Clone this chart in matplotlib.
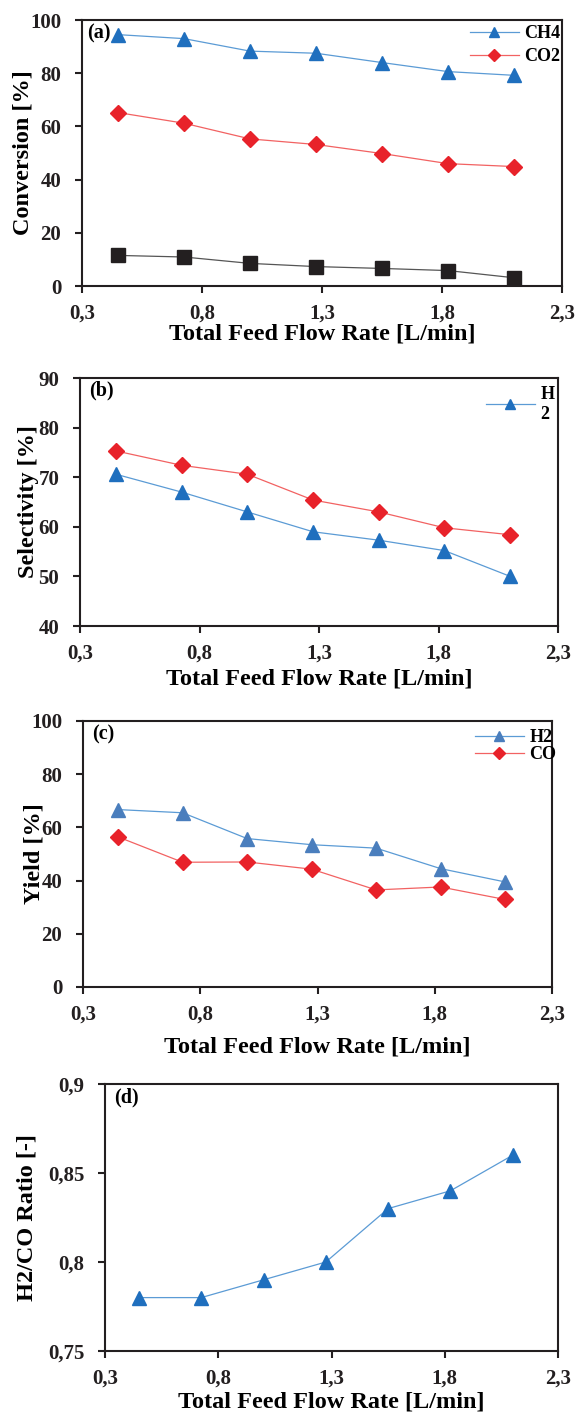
"""Feed flow rate effect on conversion, selectivity, yield and H2/CO ratio."""
import matplotlib
matplotlib.use("Agg")
import matplotlib.pyplot as plt

# ---- data ----
flow = [0.45, 0.725, 1.0, 1.275, 1.55, 1.825, 2.1]

conv_ch4 = [94.5, 93.0, 88.3, 87.5, 84.0, 80.6, 79.2]
conv_co2 = [65.2, 61.2, 55.3, 53.2, 49.8, 46.0, 44.9]
conv_black = [11.5, 10.9, 8.5, 7.3, 6.6, 5.8, 3.1]

sel_h2 = [70.6, 67.0, 63.0, 59.0, 57.3, 55.2, 50.0]
sel_red = [75.3, 72.4, 70.6, 65.4, 63.0, 59.8, 58.4]

yield_h2 = [66.7, 65.5, 55.8, 53.5, 52.2, 44.5, 39.5]
yield_co = [56.4, 46.9, 47.0, 44.3, 36.5, 37.6, 32.9]

ratio_h2co = [0.78, 0.78, 0.79, 0.80, 0.83, 0.84, 0.86]

xticks = [0.3, 0.8, 1.3, 1.8, 2.3]
xticklabels = ["0,3", "0,8", "1,3", "1,8", "2,3"]

W, H = 575, 1416
BLUE = "#1f6fbe"
BLUE_LINE = "#5b9bd5"
BLUE_C = "#4a7ebd"
RED = "#e8222a"
RED_LINE = "#f26262"
INK = "#231f20"

plt.rcParams["font.family"] = ["Liberation Serif", "DejaVu Serif"]
plt.rcParams["font.weight"] = "bold"
plt.rcParams["axes.labelweight"] = "bold"

fig = plt.figure(figsize=(W / 100, H / 100), dpi=100)


def add_ax(left, right, top, bottom):
    ax = fig.add_axes([left / W, 1 - bottom / H, (right - left) / W, (bottom - top) / H])
    ax._px = (left, right, top, bottom)
    return ax


def style(ax, ylabel, panel, yticks, yticklabels, ylim, xlab_y, ylab_x):
    left, right, top, bottom = ax._px
    ax.set_xlim(0.3, 2.3)
    ax.set_ylim(*ylim)
    ax.set_xticks(xticks)
    ax.set_xticklabels(xticklabels)
    ax.set_yticks(yticks)
    ax.set_yticklabels(yticklabels)
    for s in ax.spines.values():
        s.set_linewidth(1.5)
        s.set_color(INK)
    ax.tick_params(direction="out", length=5, width=1.5, labelsize=15,
                   colors=INK)
    ax.tick_params(axis="x", pad=8)
    ax.tick_params(axis="y", pad=10)
    ax.set_xlabel("Total Feed Flow Rate [L/min]", fontsize=17.5, va="center")
    ax.set_ylabel(ylabel, fontsize=17.5, va="center")
    ax.xaxis.set_label_coords(0.5, (bottom - xlab_y) / (bottom - top))
    ax.yaxis.set_label_coords((ylab_x - left) / (right - left), 0.5)
    ax.text((87 - left) / (right - left) if panel == "(a)" else 0.02, 0.95, panel,
            transform=ax.transAxes, fontsize=14.5, fontweight="bold",
            va="center", ha="left")


def legend(ax, x, y, spacing=0.35):
    ax.legend(loc="upper left", bbox_to_anchor=(x / W, 1 - y / H),
              bbox_transform=fig.transFigure, frameon=False, fontsize=13,
              handlelength=2.7, handletextpad=0.3, labelspacing=spacing,
              borderpad=0, borderaxespad=0, markerscale=0.75)


# (a) conversion
ax = add_ax(82, 562, 20, 286)
ax.plot(flow, conv_ch4, color=BLUE_LINE, lw=0.9, marker="^", ms=10.5,
        mfc=BLUE, mec=BLUE, label="CH4")
ax.plot(flow, conv_co2, color=RED_LINE, lw=0.9, marker="D", ms=8,
        mfc=RED, mec=RED, label="CO2")
ax.plot(flow, conv_black, color="#555555", lw=0.9, marker="s", ms=10.5,
        mfc=INK, mec=INK)
style(ax, "Conversion [%]", "(a)", [0, 20, 40, 60, 80, 100],
      ["0", "20", "40", "60", "80", "100"], (0, 100), 334, 23)
legend(ax, 470, 25)

# (b) selectivity
ax = add_ax(80, 558, 378, 626)
ax.plot(flow, sel_h2, color=BLUE_LINE, lw=0.9, marker="^", ms=10.5,
        mfc=BLUE, mec=BLUE, label="H\n2")
ax.plot(flow, sel_red, color=RED_LINE, lw=0.9, marker="D", ms=8,
        mfc=RED, mec=RED)
style(ax, "Selectivity [%]", "(b)", [40, 50, 60, 70, 80, 90],
      ["40", "50", "60", "70", "80", "90"], (40, 90), 679, 29)
legend(ax, 486, 386)

# (c) yield
ax = add_ax(83, 552, 721, 987)
ax.plot(flow, yield_h2, color=BLUE_LINE, lw=0.9, marker="^", ms=10.5,
        mfc=BLUE_C, mec=BLUE_C, label="H2")
ax.plot(flow, yield_co, color=RED_LINE, lw=0.9, marker="D", ms=8,
        mfc=RED, mec=RED, label="CO")
style(ax, "Yield [%]", "(c)", [0, 20, 40, 60, 80, 100],
      ["0", "20", "40", "60", "80", "100"], (0, 100), 1047, 34)
legend(ax, 475, 729, spacing=0.02)

# (d) H2/CO ratio
ax = add_ax(105, 558, 1084, 1351)
ax.plot(flow, ratio_h2co, color=BLUE_LINE, lw=0.9, marker="^", ms=10.5,
        mfc=BLUE, mec=BLUE)
style(ax, "H2/CO Ratio [-]", "(d)", [0.75, 0.8, 0.85, 0.9],
      ["0,75", "0,8", "0,85", "0,9"], (0.75, 0.9), 1402, 27)

fig.savefig("out.png", dpi=100)
